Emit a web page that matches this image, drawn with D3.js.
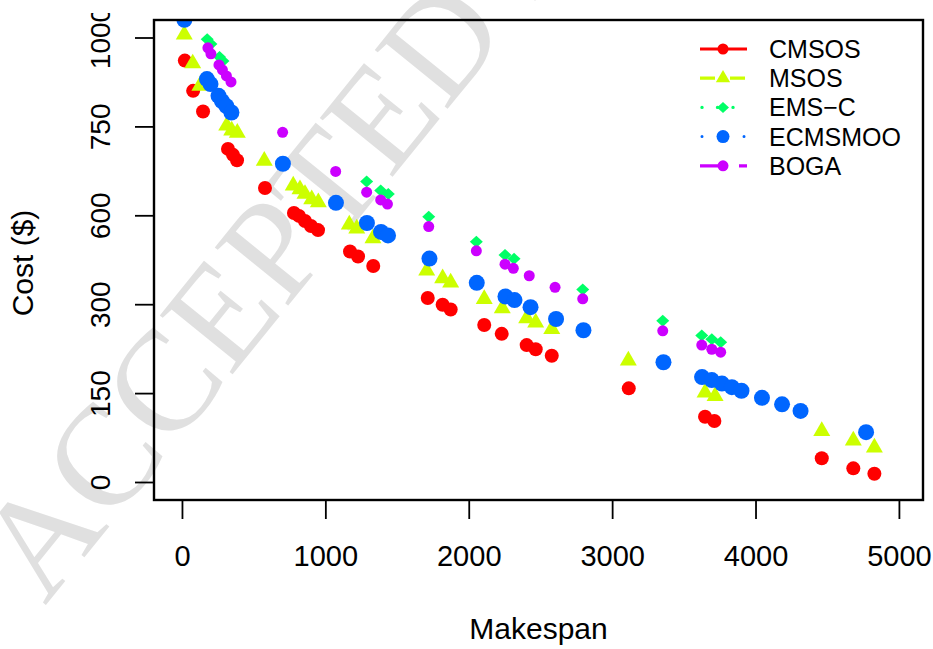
<!DOCTYPE html>
<html>
<head>
<meta charset="utf-8">
<script src="https://cdn.jsdelivr.net/npm/d3@7"></script>
<style>
  html, body { margin: 0; padding: 0; background: #fff; }
  svg { display: block; }
</style>
</head>
<body>
<svg id="chart" width="933" height="649"></svg>
<script>
// ---- data -------------------------------------------------------------
const seriesNames  = ["CMSOS", "MSOS", "EMS\u2212C", "ECMSMOO", "BOGA"];
const seriesColors = ["#FF0000", "#CCFF00", "#00FF66", "#0066FF", "#CC00FF"];

const xTicks = [0, 1000, 2000, 3000, 4000, 5000];
const yTicks = [0, 150, 300, 600, 750, 1000];

const cmsosMakespan = [20, 78, 147, 321, 356, 384, 579, 781, 816, 858, 900, 949, 1172, 1228, 1334, 1714, 1818, 1874, 2108, 2230, 2404, 2467, 2579, 3116, 3648, 3713, 4462, 4682, 4829];
const cmsosCost     = [935, 850, 792, 712, 702, 693, 646, 604, 598, 581, 564, 550, 478, 461, 429, 321, 299, 291, 265, 250, 231, 224, 213, 158, 110, 103, 40, 23, 14];

const msosMakespan  = [16, 75, 125, 312, 347, 386, 574, 776, 823, 858, 905, 951, 1167, 1219, 1332, 1707, 1818, 1874, 2108, 2234, 2404, 2467, 2579, 3113, 3648, 3718, 4462, 4682, 4829];
const msosCost      = [1008, 927, 864, 752, 743, 739, 692, 650, 644, 636, 627, 622, 569, 555, 522, 413, 387, 373, 317, 293, 276, 269, 258, 205, 151, 145, 86, 70, 58];

const emscMakespan  = [176, 202, 262, 286, 1288, 1386, 1439, 1721, 2053, 2253, 2316, 2795, 3353, 3625, 3695, 3757];
const emscCost      = [995, 982, 945, 934, 657, 642, 636, 595, 511, 466, 453, 350, 272, 247, 241, 236];

const ecmsmooMakespan = [17, 174, 199, 255, 279, 310, 345, 704, 1074, 1290, 1388, 1437, 1726, 2056, 2256, 2319, 2431, 2609, 2800, 3358, 3627, 3695, 3766, 3835, 3902, 4045, 4185, 4314, 4771];
const ecmsmooCost     = [1050, 883, 869, 836, 821, 807, 789, 687, 621, 574, 544, 532, 454, 372, 326, 314, 295, 275, 256, 202, 177, 172, 166, 160, 154, 142, 131, 120, 84];

const bogaMakespan  = [181, 202, 258, 282, 310, 342, 702, 1072, 1288, 1386, 1433, 1721, 2053, 2253, 2311, 2422, 2602, 2795, 3353, 3625, 3695, 3757];
const bogaCost      = [971, 954, 923, 909, 892, 875, 740, 674, 639, 626, 619, 562, 480, 435, 421, 396, 357, 318, 255, 231, 224, 219];

// ---- layout -----------------------------------------------------------
const plot = { left: 154, right: 923, top: 20, bottom: 500 };
const tickLen = 19;
const sansFont = "'Liberation Sans', Arial, Helvetica, sans-serif";

const svg = d3.select("#chart");

const x = d3.scaleLinear().domain([-195, 5168]).range([plot.left, plot.right]);
// y axis labels are evenly spaced, so the scale is piecewise linear between them
const yZero = 482, yStep = 88.9;
const y = d3.scaleLinear().domain(yTicks).range(yTicks.map((_, i) => yZero - i * yStep));

// ---- watermark --------------------------------------------------------
svg.append("text")
  .attr("transform", "translate(45,606) rotate(-51)")
  .attr("font-family", "'Liberation Serif', 'Times New Roman', serif")
  .attr("font-size", 143)
  .attr("fill", "#e0e0e0")
  .text("ACCEPTED MANUSCRIPT");

// ---- points -----------------------------------------------------------
const defs = svg.append("defs");
defs.append("clipPath").attr("id", "plotClip")
  .append("rect")
  .attr("x", plot.left).attr("y", plot.top)
  .attr("width", plot.right - plot.left).attr("height", plot.bottom - plot.top);
defs.append("clipPath").attr("id", "yLabelClip")
  .append("rect")
  .attr("x", 0).attr("y", 13).attr("width", plot.left).attr("height", 649);

const diamondType = (hw, hh) => ({
  draw(ctx) {
    ctx.moveTo(0, -hh); ctx.lineTo(hw, 0); ctx.lineTo(0, hh); ctx.lineTo(-hw, 0); ctx.closePath();
  }
});

const markers = [
  { kind: "circle", r: 7 },
  { kind: "symbol", path: d3.symbol().type(d3.symbolTriangle).size(125)() },
  { kind: "symbol", path: d3.symbol().type(diamondType(6.5, 6)).size(1)() },
  { kind: "circle", r: 8 },
  { kind: "circle", r: 5.5 }
];

const series = [
  [cmsosMakespan, cmsosCost],
  [msosMakespan, msosCost],
  [emscMakespan, emscCost],
  [ecmsmooMakespan, ecmsmooCost],
  [bogaMakespan, bogaCost]
].map(([xs, ys], i) => ({
  name: seriesNames[i], color: seriesColors[i], marker: markers[i],
  points: xs.map((v, j) => ({ x: v, y: ys[j] }))
}));

const pointLayer = svg.append("g").attr("clip-path", "url(#plotClip)");
series.forEach(s => {
  const g = pointLayer.append("g").attr("fill", s.color);
  if (s.marker.kind === "circle") {
    g.selectAll("circle").data(s.points).join("circle")
      .attr("cx", d => x(d.x)).attr("cy", d => y(d.y)).attr("r", s.marker.r);
  } else {
    g.selectAll("path").data(s.points).join("path")
      .attr("d", s.marker.path)
      .attr("transform", d => `translate(${x(d.x)},${y(d.y)})`);
  }
});

// ---- frame and axes ---------------------------------------------------
svg.append("rect")
  .attr("x", plot.left).attr("y", plot.top)
  .attr("width", plot.right - plot.left).attr("height", plot.bottom - plot.top)
  .attr("fill", "none").attr("stroke", "#000").attr("stroke-width", 2.4);

const xAxis = svg.append("g")
  .attr("transform", `translate(0,${plot.bottom})`)
  .call(d3.axisBottom(x).tickValues(xTicks).tickSize(tickLen).tickPadding(26).tickFormat(d3.format("d")));
xAxis.select(".domain").remove();
xAxis.selectAll(".tick line").attr("stroke", "#000").attr("stroke-width", 1.8);
xAxis.selectAll(".tick text")
  .attr("fill", "#000").attr("font-family", sansFont).attr("font-size", 29);

const yAxisWrap = svg.append("g").attr("clip-path", "url(#yLabelClip)");
const yAxis = yAxisWrap.append("g")
  .attr("transform", `translate(${plot.left},0)`)
  .call(d3.axisLeft(y).tickValues(yTicks).tickSize(tickLen).tickFormat(d3.format("d")));
yAxis.select(".domain").remove();
yAxis.selectAll(".tick line").attr("stroke", "#000").attr("stroke-width", 1.8);
yAxis.selectAll(".tick text")
  .attr("x", null).attr("y", null).attr("dy", null)
  .attr("text-anchor", "middle")
  .attr("transform", "translate(-44,0) rotate(-90)")
  .attr("fill", "#000").attr("font-family", sansFont).attr("font-size", 28);

svg.append("text")
  .attr("x", (plot.left + plot.right) / 2).attr("y", 639)
  .attr("text-anchor", "middle")
  .attr("font-family", sansFont).attr("font-size", 30)
  .text("Makespan");

svg.append("text")
  .attr("transform", `translate(33,${(plot.top + plot.bottom) / 2 + 3}) rotate(-90)`)
  .attr("text-anchor", "middle")
  .attr("font-family", sansFont).attr("font-size", 30)
  .text("Cost ($)");

// ---- legend -----------------------------------------------------------
const legend = { x0: 700, x1: 747, mid: 723, textX: 769, top: 49, step: 29.2 };
const legendLines = [
  { dash: null, cap: "butt", width: 3.2 },
  { dash: "15,15", cap: "butt", width: 3.2 },
  { dash: "0.01,15.5", cap: "round", width: 3.4, start: 702 },
  { dash: "0.01,21", cap: "round", width: 3, start: 702 },
  { dash: "27,12", cap: "butt", width: 3.2 }
];
const legendMarkers = [
  { kind: "circle", r: 5.5 },
  { kind: "symbol", path: d3.symbol().type(d3.symbolTriangle).size(88)() },
  { kind: "symbol", path: d3.symbol().type(diamondType(6, 5.5)).size(1)() },
  { kind: "circle", r: 6.5 },
  { kind: "circle", r: 5.5 }
];

const legendG = svg.append("g");
series.forEach((s, i) => {
  const yy = legend.top + i * legend.step;
  const ls = legendLines[i];
  legendG.append("line")
    .attr("x1", ls.start || legend.x0).attr("x2", legend.x1)
    .attr("y1", yy).attr("y2", yy)
    .attr("stroke", s.color).attr("stroke-width", ls.width)
    .attr("stroke-linecap", ls.cap)
    .attr("stroke-dasharray", ls.dash);
  const m = legendMarkers[i];
  if (m.kind === "circle") {
    legendG.append("circle").attr("cx", legend.mid).attr("cy", yy).attr("r", m.r).attr("fill", s.color);
  } else {
    legendG.append("path").attr("d", m.path)
      .attr("transform", `translate(${legend.mid},${yy})`).attr("fill", s.color);
  }
  legendG.append("text")
    .attr("x", legend.textX).attr("y", yy + 9)
    .attr("font-family", sansFont).attr("font-size", 25)
    .text(s.name);
});
</script>
</body>
</html>
